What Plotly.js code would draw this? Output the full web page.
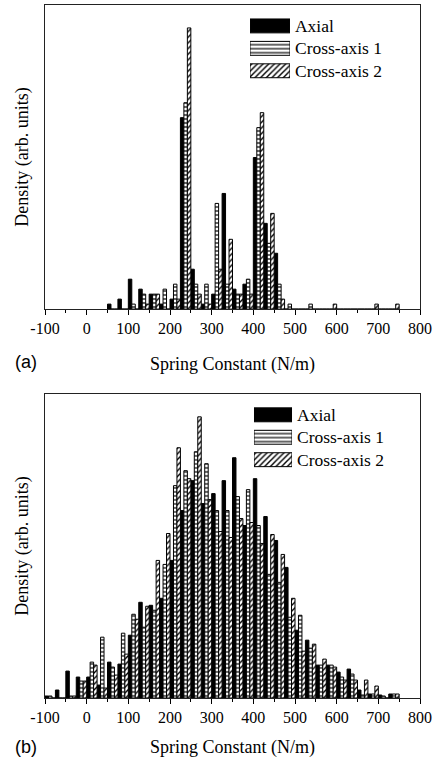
<!DOCTYPE html>
<html><head><meta charset="utf-8">
<script src="https://cdn.plot.ly/plotly-3.0.1.min.js"></script>
<style>html,body{margin:0;padding:0;background:#fff}#chart{width:437px;height:758px}</style>
</head><body><div id="chart"></div>
<script>
// ---------- data ----------
const seriesNames = ['Axial', 'Cross-axis 1', 'Cross-axis 2'];

// panel (a): bin centres (N/m), 25 N/m bins
const binCentersA = [62.5, 87.5, 112.5, 137.5, 162.5, 187.5, 212.5, 237.5, 262.5, 287.5,
  312.5, 337.5, 362.5, 387.5, 412.5, 437.5, 462.5, 487.5, 512.5, 537.5,
  562.5, 587.5, 612.5, 637.5, 662.5, 687.5, 712.5, 737.5];
const axialA = [5, 10, 30, 20, 15, 5, 10, 192, 40, 5, 15, 116, 20, 25, 152, 86, 56, 0, 0, 0, 0, 0, 0, 0, 0, 0, 0, 0];
const cross1A = [0, 0, 5, 15, 15, 20, 25, 207, 25, 25, 106, 25, 15, 30, 182, 66, 25, 5, 0, 5, 0, 0, 0, 0, 0, 0, 0, 0];
const cross2A = [0, 0, 0, 5, 15, 0, 10, 282, 15, 5, 40, 70, 15, 15, 197, 96, 10, 0, 0, 0, 0, 5, 0, 0, 0, 5, 0, 5];

// panel (b)
const binCentersB = [-87.5, -62.5, -37.5, -12.5, 12.5, 37.5, 62.5, 87.5, 112.5, 137.5,
  162.5, 187.5, 212.5, 237.5, 262.5, 287.5, 312.5, 337.5, 362.5, 387.5,
  412.5, 437.5, 462.5, 487.5, 512.5, 537.5, 562.5, 587.5, 612.5, 637.5,
  662.5, 687.5, 712.5, 737.5];
const axialB = [2, 8, 27, 21, 21, 13, 36, 34, 63, 96, 93, 100, 138, 188, 218, 195, 205, 218, 241, 173,
  220, 182, 158, 131, 68, 58, 33, 33, 26, 29, 8, 4, 3, 4];
const cross1B = [2, 0, 2, 17, 36, 61, 31, 65, 84, 71, 88, 134, 213, 228, 247, 235, 188, 188, 202, 209,
  173, 124, 116, 81, 83, 50, 33, 33, 21, 24, 3, 4, 2, 4];
const cross2B = [0, 0, 2, 17, 33, 10, 23, 44, 79, 92, 138, 165, 251, 220, 282, 199, 167, 161, 180, 176,
  155, 164, 144, 100, 47, 54, 39, 31, 18, 18, 18, 12, 0, 4];

const xTickVals = [-100, 0, 100, 200, 300, 400, 500, 600, 700, 800];
const xTickText = ['-100', '0', '100', '200', '300', '400', '500', '600', '700', '800'];
const xTitle = 'Spring Constant (N/m)';
const yTitle = 'Density (arb. units)';
const panelLabels = ['(a)', '(b)'];

// ---------- styles ----------
const SERIF = 'Liberation Serif, Times New Roman, serif';
const SANS = 'Liberation Sans, Arial, sans-serif';
const styles = [
  {color: '#000000', line: {color: '#000', width: 1}},
  {color: '#ffffff', line: {color: '#000', width: 1},
   pattern: {shape: '-', fgcolor: '#000', bgcolor: '#fff', size: 4, solidity: 0.3}},
  {color: '#ffffff', line: {color: '#000', width: 1},
   pattern: {shape: '/', fgcolor: '#000', bgcolor: '#fff', size: 4, solidity: 0.35}}
];

function barTrace(x, y, i, xa, ya) {
  return {type: 'bar', x: x, y: y, name: seriesNames[i], xaxis: xa, yaxis: ya,
          marker: styles[i], showlegend: false, hoverinfo: 'skip'};
}

const data = [
  barTrace(binCentersA, axialA, 0, 'x', 'y'),
  barTrace(binCentersA, cross1A, 1, 'x', 'y'),
  barTrace(binCentersA, cross2A, 2, 'x', 'y'),
  barTrace(binCentersB, axialB, 0, 'x2', 'y2'),
  barTrace(binCentersB, cross1B, 1, 'x2', 'y2'),
  barTrace(binCentersB, cross2B, 2, 'x2', 'y2')
];

// legend swatches drawn as bars on small helper axes
function swatchTraces(xa, ya) {
  return seriesNames.map((nm, i) => ({
    type: 'bar', orientation: 'h', y: [nm], x: [1], xaxis: xa, yaxis: ya,
    width: 0.62, offsetgroup: 'sw', showlegend: false, hoverinfo: 'skip',
    marker: styles[i]
  }));
}
swatchTraces('x3', 'y3').forEach(t => data.push(t));
swatchTraces('x4', 'y4').forEach(t => data.push(t));

function xAxis(anchor, standoff) {
  return {anchor: anchor, domain: [0, 1], range: [-100, 800],
    tickmode: 'array', tickvals: xTickVals, ticktext: xTickText,
    ticks: 'outside', ticklen: 5, tickwidth: 1, tickcolor: '#000',
    minor: {dtick: 50, tick0: 0, ticks: 'outside', ticklen: 3, tickcolor: '#000', showgrid: false},
    showline: true, mirror: true, linecolor: '#222', linewidth: 1,
    showgrid: false, zeroline: false, fixedrange: true,
    tickfont: {family: SERIF, size: 16, color: '#000'},
    automargin: true,
    title: {text: xTitle, font: {family: SERIF, size: 18, color: '#000'}, standoff: standoff}};
}
function yAxis(anchor, dom) {
  return {anchor: anchor, domain: dom, range: [0, 305], showticklabels: false, ticks: '',
    showline: true, mirror: true, linecolor: '#222', linewidth: 1,
    showgrid: false, zeroline: false, fixedrange: true, automargin: true,
    title: {text: yTitle, font: {family: SERIF, size: 18, color: '#000'}, standoff: 10}};
}
function swX(anchor, dom) {
  return {anchor: anchor, domain: dom, range: [0, 1], visible: false, fixedrange: true};
}
function swY(anchor, dom) {
  return {anchor: anchor, domain: dom, type: 'category', autorange: 'reversed', side: 'right',
    showline: false, showgrid: false, zeroline: false, ticks: '', fixedrange: true,
    ticklabelstandoff: 4,
    tickfont: {family: SERIF, size: 17.5, color: '#000'}};
}

const layout = {
  width: 437, height: 758,
  margin: {l: 45, r: 17, t: 4, b: 59},
  paper_bgcolor: '#fff', plot_bgcolor: '#fff',
  barmode: 'group', bargap: 0, bargroupgap: 0,
  showlegend: false,
  xaxis: xAxis('y', 21),
  yaxis: yAxis('x', [0.5612, 1]),
  xaxis2: xAxis('y2', 15),
  yaxis2: yAxis('x2', [0, 0.4388]),
  xaxis3: swX('y3', [0.5467, 0.6533]),
  yaxis3: swY('x3', [0.8889, 0.9860]),
  xaxis4: swX('y4', [0.5573, 0.6587]),
  yaxis4: swY('x4', [0.3277, 0.4248]),
  annotations: [
    {text: panelLabels[0], xref: 'paper', yref: 'paper', x: -0.0507, y: 0.4849,
     xanchor: 'center', yanchor: 'middle', showarrow: false,
     font: {family: SANS, size: 18, color: '#000'}},
    {text: panelLabels[1], xref: 'paper', yref: 'paper', x: -0.0507, y: -0.0705,
     xanchor: 'center', yanchor: 'middle', showarrow: false,
     font: {family: SANS, size: 18, color: '#000'}}
  ]
};

Plotly.newPlot('chart', data, layout, {displayModeBar: false, staticPlot: true});
</script>
</body></html>
